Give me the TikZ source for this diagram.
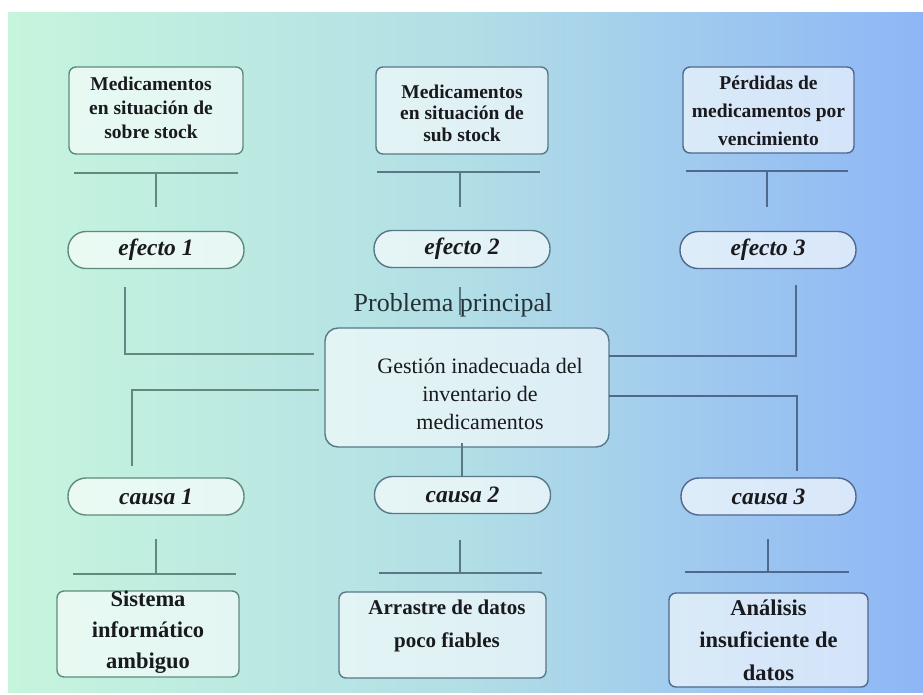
\documentclass[tikz,border=0pt]{standalone}
\usepackage{fontspec}
\setmainfont{Liberation Serif}
\usetikzlibrary{calc}
\definecolor{bgL}{RGB}{198,245,221}
\definecolor{bgM}{RGB}{178,222,230}
\definecolor{bgR}{RGB}{142,182,246}
\definecolor{lnL}{RGB}{96,138,126}
\definecolor{lnM}{RGB}{88,120,136}
\definecolor{lnR}{RGB}{78,104,142}
\definecolor{txt}{RGB}{25,25,30}
\tikzset{
  boxs/.style={line width=1.4pt, rounded corners=7pt, fill=white, fill opacity=0.6, draw opacity=1, minimum width=#1, inner sep=0pt},
  pill/.style={line width=1.4pt, rounded corners=18pt, fill=white, fill opacity=0.65, minimum width=176pt, minimum height=37pt, inner sep=0pt, text opacity=1, text=txt, font=\fontsize{23.5}{26}\selectfont\bfseries\itshape},
  tbold/.style={align=center, text=txt, font=\fontsize{19.5}{24}\selectfont\bfseries},
  tboldb/.style={align=center, text=txt, font=\fontsize{22.5}{31}\selectfont\bfseries},
  conn/.style={line width=1.6pt}
}
\begin{document}
\begin{tikzpicture}[x=1pt,y=-1pt]
\useasboundingbox (0,0) rectangle (923,694);
\fill[white] (0,0) rectangle (923,694);
\shade[left color=bgL, right color=bgR, middle color=bgM] (8,12) rectangle (923,692);

% top effect boxes
\node[boxs=174pt, minimum height=87pt, draw=lnL] (t1) at (156,110.5) {};
\node[tbold] (t1x) at (151,107.5) {Medicamentos\\en situación de\\sobre stock};
\node[boxs=172pt, minimum height=87pt, draw=lnM] (t2) at (462,110.5) {};
\node[tbold, font=\fontsize{19.5}{21.5}\selectfont\bfseries] (t2x) at (462,113) {Medicamentos\\en situación de\\sub stock};
\node[boxs=171pt, minimum height=86pt, draw=lnR] (t3) at (768.5,110) {};
\node[tbold, font=\fontsize{19.5}{28}\selectfont\bfseries] (t3x) at (768.5,111) {Pérdidas de\\medicamentos por\\vencimiento};

% bars below top boxes
\coordinate (t1a) at (74,173); \coordinate (t1b) at (238,173);
\coordinate (t1c) at (156,173); \coordinate (t1d) at (156,207);
\draw[conn, lnL] (t1a) -- (t1b); \draw[conn, lnL] (t1c) -- (t1d);
\coordinate (t2a) at (377,172); \coordinate (t2b) at (540,172);
\coordinate (t2c) at (460,172); \coordinate (t2d) at (460,207);
\draw[conn, lnM] (t2a) -- (t2b); \draw[conn, lnM] (t2c) -- (t2d);
\coordinate (t3a) at (686,171); \coordinate (t3b) at (848,171);
\coordinate (t3c) at (767,171); \coordinate (t3d) at (767,207);
\draw[conn, lnR] (t3a) -- (t3b); \draw[conn, lnR] (t3c) -- (t3d);

% effect pills
\node[pill, draw=lnL] (e1) at (156,250) {efecto 1};
\node[pill, draw=lnM] (e2) at (462,249) {efecto 2};
\node[pill, draw=lnR] (e3) at (768,250) {efecto 3};

% central problem
\node[boxs=284pt, minimum height=119pt, rounded corners=13pt, draw=lnM] (c) at (467,387.5) {};
\node[align=center, text=txt, font=\fontsize{22}{28}\selectfont] (cx) at (480,394) {Gestión inadecuada del\\inventario de\\medicamentos};

% connectors effects -> center
\coordinate (e1a) at (125,287); \coordinate (e1b) at (314,354);
\draw[conn, lnL] (e1a) |- (e1b);
\coordinate (e2a) at (460,287); \coordinate (e2b) at (460,315);
\draw[conn, lnM] (e2a) -- (e2b);
\coordinate (e3a) at (796,285); \coordinate (e3b) at (609,356);
\draw[conn, lnR] (e3a) |- (e3b);

\node[text={rgb,255:red,35;green,50;blue,55}, font=\fontsize{26}{30}\selectfont] (pp) at (453,305) {Problema principal};

% connectors center -> causes
\coordinate (c1a) at (319,390); \coordinate (c1b) at (132,466);
\draw[conn, lnL] (c1a) -| (c1b);
\coordinate (c2a) at (462,443); \coordinate (c2b) at (462,476);
\draw[conn, lnM] (c2a) -- (c2b);
\coordinate (c3a) at (609,396); \coordinate (c3b) at (797,471);
\draw[conn, lnR] (c3a) -| (c3b);

% cause pills
\node[pill, draw=lnL] (k1) at (156,496.5) {causa 1};
\node[pill, draw=lnM] (k2) at (462.5,495) {causa 2};
\node[pill, draw=lnR, minimum width=175pt] (k3) at (768.5,496.5) {causa 3};

% bars below causes
\coordinate (k1c) at (156,539); \coordinate (k1d) at (156,574);
\coordinate (k1a) at (73,574); \coordinate (k1b) at (236,574);
\draw[conn, lnL] (k1c) -- (k1d); \draw[conn, lnL] (k1a) -- (k1b);
\coordinate (k2c) at (460,540); \coordinate (k2d) at (460,573);
\coordinate (k2a) at (379,573); \coordinate (k2b) at (542,573);
\draw[conn, lnM] (k2c) -- (k2d); \draw[conn, lnM] (k2a) -- (k2b);
\coordinate (k3c) at (768,539); \coordinate (k3d) at (768,572);
\coordinate (k3a) at (685,572); \coordinate (k3b) at (849,572);
\draw[conn, lnR] (k3c) -- (k3d); \draw[conn, lnR] (k3a) -- (k3b);

% bottom cause boxes
\node[boxs=182pt, minimum height=86pt, draw=lnL] (b1) at (148,634) {};
\node[tboldb] (b1x) at (148,632.5) {Sistema\\informático\\ambiguo};
\node[boxs=207pt, minimum height=86pt, draw=lnM] (b2) at (442.5,635) {};
\node[tboldb, font=\fontsize{21}{33}\selectfont\bfseries] (b2x) at (447,625.5) {Arrastre de datos\\poco fiables};
\node[boxs=199pt, minimum height=94pt, draw=lnR] (b3) at (768.5,640) {};
\node[tboldb, font=\fontsize{22.5}{32.5}\selectfont\bfseries] (b3x) at (768.5,640) {Análisis\\insuficiente de\\datos};
\end{tikzpicture}
\end{document}
